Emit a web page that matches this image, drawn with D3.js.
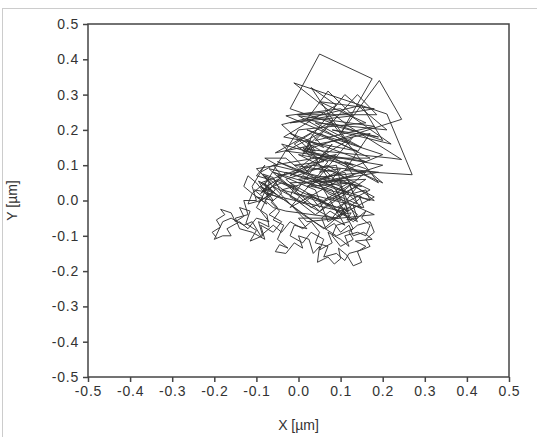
<!DOCTYPE html>
<html>
<head>
<meta charset="utf-8">
<script src="https://cdn.jsdelivr.net/npm/d3@7"></script>
<style>
  body { margin: 0; background: #fff; }
  text { font-family: "Liberation Sans", Arial, sans-serif; fill: #333; }
</style>
</head>
<body>
<svg id="svg"></svg>
<script>
// axis ticks
let xTicks = [-0.5, -0.4, -0.3, -0.2, -0.1, 0.0, 0.1, 0.2, 0.3, 0.4, 0.5]
let yTicks = [-0.5, -0.4, -0.3, -0.2, -0.1, 0.0, 0.1, 0.2, 0.3, 0.4, 0.5]

// trajectory (x, y in um)
let trackX = [
  -0.195, -0.205, -0.185, -0.195, -0.175, -0.185, -0.16, -0.15, -0.13, -0.14,
  -0.115, -0.125, -0.1, -0.115, -0.085, -0.095, -0.07, -0.075, -0.1, -0.085,
  -0.105, -0.08, -0.095, -0.07, -0.075, -0.055, -0.085, -0.06, -0.04, -0.065,
  -0.045, -0.06, -0.035, -0.05, -0.025, -0.045, -0.055, -0.03, -0.01, 0.01,
  0.0, 0.025, 0.035, 0.05, 0.045, 0.07, 0.085, 0.1, 0.095, 0.115,
  0.13, 0.15, 0.14, 0.16, 0.135, 0.175, 0.155, 0.13, 0.12, 0.1,
  0.085, 0.065, 0.055, 0.075, 0.095, 0.11, 0.1, 0.125, 0.115, 0.14,
  0.13, 0.155, 0.145, 0.17, 0.16, 0.13, 0.12, 0.09, 0.1, 0.07,
  0.05, 0.03, 0.01, -0.02, -0.01, -0.04, -0.07, -0.09, -0.065, -0.1,
  -0.05, -0.08, -0.03, 0.0, 0.03, 0.01, 0.04, 0.02, 0.06, 0.03,
  -0.01, 0.025, 0.07, 0.05, 0.1, 0.08, 0.13, 0.11, 0.16, 0.2,
  0.03, -0.04, 0.15, 0.2, -0.02, 0.05, 0.175, 0.1, 0.192, 0.245,
  0.02, 0.22, 0.245, 0.12, -0.011, 0.21, 0.27, 0.11, 0.17, -0.055,
  0.08, 0.01, 0.16, -0.02, 0.19, 0.06, -0.004, 0.186, 0.14, 0.04,
  0.18, 0.0, 0.12, 0.03, 0.09, -0.035, 0.14, 0.02, 0.2, 0.06,
  0.15, -0.06, 0.09, -0.02, 0.13, 0.03, 0.18, 0.07, 0.02, -0.03,
  0.0, -0.05, -0.08, -0.06, -0.1, -0.075, -0.11, -0.09, -0.07, -0.095,
  -0.06, -0.085, -0.05, -0.07,
  -0.03, 0.12, -0.05, 0.10, 0.14, -0.02, 0.16, 0.04, -0.08, 0.09,
  0.17, 0.00, 0.13, -0.04, 0.07, 0.18, 0.02, -0.06, 0.11, 0.05,
  0.19, 0.03, -0.09, 0.06, 0.15, 0.01, 0.08, -0.01, 0.12, 0.04,
  0.17, 0.05, -0.03, 0.10, 0.20, 0.07, -0.07, 0.03, 0.14, 0.08,
  0.00, 0.02, -0.01, -0.02, 0.01, 0.03, 0.06, 0.05, 0.08, 0.07,
  0.10, 0.12, 0.11, 0.14, 0.16, 0.17, 0.15, 0.16, 0.13, 0.11,
  0.105, 0.09, 0.10, 0.115, 0.095,
  -0.03, -0.06, -0.08, -0.06, -0.09, -0.07, -0.10, -0.08, -0.11, -0.10,
  -0.13, -0.12, -0.15, -0.14, -0.11, -0.08, -0.09, -0.06, -0.04, -0.07,
  -0.05, -0.075, -0.085, -0.065, -0.08,
  0.00, 0.16, 0.05, 0.18, -0.02, 0.13, 0.07, 0.02, 0.19, 0.08,
  0.22, 0.10, -0.03, 0.15, 0.04, 0.21, 0.11, 0.03, 0.02, 0.03,
  0.01, 0.025, 0.035, 0.015, 0.06, -0.01, 0.09, 0.02, 0.13, 0.06,
  -0.04, 0.11, 0.14, 0.00, 0.16, 0.05, -0.05, 0.09, 0.12, 0.02,
  0.15, 0.06, -0.02, 0.10, 0.18, 0.07, 0.04, -0.06, 0.08, 0.13,
  0.09, 0.05, 0.01, -0.03, -0.07,
  -0.09, -0.07, -0.10, -0.12, -0.14, -0.17, -0.16, -0.18, -0.20, -0.18,
  -0.16, -0.13, -0.11, -0.09, -0.06, -0.04, -0.02, 0.01, 0.03, 0.05,
  0.04, 0.07, 0.06, 0.09, 0.11, 0.12, 0.15, 0.17, 0.16, 0.18,
  0.17, 0.14, 0.12, 0.13, 0.10, 0.08, 0.09, 0.12, 0.14, 0.12,
  0.10, -0.08, -0.10, -0.12, -0.13, -0.11, -0.12, -0.09, -0.07, -0.09,
  -0.06, -0.04, -0.07
]
let trackY = [
  -0.105, -0.09, -0.075, -0.055, -0.04, -0.025, -0.035, -0.06, -0.045, -0.02,
  -0.03, -0.065, -0.085, -0.115, -0.1, -0.06, -0.075, -0.04, -0.02, 0.01,
  0.03, 0.025, 0.055, 0.04, 0.01, 0.03, 0.075, 0.065, 0.02, -0.005,
  -0.03, -0.055, -0.07, -0.11, -0.135, -0.125, -0.145, -0.15, -0.12, -0.135,
  -0.1, -0.11, -0.15, -0.13, -0.175, -0.16, -0.18, -0.165, -0.135, -0.155,
  -0.185, -0.175, -0.145, -0.13, -0.115, -0.11, -0.09, -0.1, -0.07, -0.09,
  -0.065, -0.08, -0.05, -0.03, -0.045, -0.02, -0.04, -0.035, -0.055, -0.05,
  -0.015, -0.02, 0.01, 0.0, 0.03, 0.02, 0.05, 0.03, 0.0, 0.01,
  -0.02, 0.01, -0.01, 0.01, 0.04, 0.05, 0.035, 0.02, 0.05, 0.09,
  0.1, 0.12, 0.12, 0.09, 0.12, 0.15, 0.14, 0.17, 0.15, 0.19,
  0.16, 0.13, 0.11, 0.08, 0.09, 0.06, 0.07, 0.11, 0.09, 0.05,
  0.14, 0.215, 0.27, 0.17, 0.26, 0.415, 0.345, 0.19, 0.34, 0.23,
  0.145, 0.12, 0.116, 0.21, 0.333, 0.245, 0.073, 0.085, 0.19, 0.135,
  0.225, 0.14, 0.11, 0.19, 0.05, 0.25, 0.243, 0.243, 0.3, 0.17,
  0.21, 0.24, 0.16, 0.32, 0.27, 0.18, 0.14, 0.2, 0.13, 0.06,
  0.04, 0.1, 0.13, 0.07, 0.18, 0.04, 0.0, 0.1, 0.08, 0.06,
  0.03, 0.06, 0.035, 0.0, 0.01, -0.01, 0.02, 0.04, 0.015, -0.005,
  0.025, 0.05, 0.015, 0.03,
  0.08, 0.02, 0.11, 0.04, -0.06, 0.05, 0.06, -0.04, 0.07, -0.02,
  0.03, 0.13, 0.10, 0.16, 0.02, -0.04, -0.06, 0.04, -0.07, 0.05,
  0.08, 0.10, 0.05, -0.08, 0.01, 0.07, 0.16, 0.02, -0.03, 0.12,
  0.12, 0.19, 0.14, 0.12, 0.10, 0.05, 0.09, -0.02, 0.04, -0.05,
  -0.05, -0.08, -0.07, -0.10, -0.12, -0.09, -0.11, -0.14, -0.12, -0.09,
  -0.11, -0.13, -0.10, -0.09, -0.10, -0.07, -0.05, -0.03, -0.06, -0.04,
  -0.025, -0.035, -0.015, -0.03, -0.05,
  -0.03, -0.02, 0.00, 0.02, 0.04, 0.06, 0.07, 0.10, 0.04, 0.00,
  0.00, -0.04, -0.05, -0.08, -0.09, -0.11, -0.07, -0.09, -0.06, -0.04,
  -0.02, 0.015, 0.035, 0.03, 0.045,
  0.20, 0.22, 0.28, 0.26, 0.22, 0.24, 0.31, 0.23, 0.18, 0.20,
  0.16, 0.26, 0.24, 0.15, 0.22, 0.20, 0.30, 0.18, 0.14, 0.155,
  0.13, 0.165, 0.135, 0.145, 0.11, 0.10, 0.08, 0.04, 0.05, 0.00,
  0.03, 0.08, -0.01, 0.06, 0.08, -0.03, 0.07, 0.10, -0.05, 0.02,
  -0.02, 0.09, -0.02, 0.06, 0.01, -0.06, 0.03, 0.08, 0.03, -0.08,
  -0.10, -0.07, -0.04, 0.00, 0.02,
  -0.03, -0.06, -0.05, -0.08, -0.06, -0.08, -0.10, -0.10, -0.11, -0.06,
  -0.05, -0.07, -0.06, -0.10, -0.07, -0.09, -0.06, -0.08, -0.06, -0.09,
  -0.12, -0.13, -0.16, -0.15, -0.17, -0.15, -0.14, -0.13, -0.11, -0.09,
  -0.06, -0.07, -0.09, -0.11, -0.13, -0.10, -0.07, -0.06, -0.04, -0.02,
  -0.03, 0.02, 0.05, 0.07, 0.04, 0.02, -0.01, 0.00, 0.05, 0.08,
  0.10, 0.07, 0.03
]

let svg = d3.select('#svg').attr('width', 537).attr('height', 437)
let mLeft = 88, mRight = 509, mTop = 24, mBottom = 377

// faint outer frame of the figure
svg.append('rect')
  .attr('x', 2.5).attr('y', 8.5).attr('width', 540).attr('height', 440)
  .attr('fill', 'none').attr('stroke', '#ccc')

let x = d3.scaleLinear().domain([-0.5, 0.5]).range([mLeft, mRight])
let y = d3.scaleLinear().domain([-0.5, 0.5]).range([mBottom, mTop])

svg.append('defs').append('clipPath').attr('id', 'clip')
  .append('rect').attr('x', mLeft).attr('y', mTop)
  .attr('width', mRight - mLeft).attr('height', mBottom - mTop)

// trajectory
let n = Math.min(trackX.length, trackY.length)
let pts = d3.range(n).map(i => [trackX[i], trackY[i]])
svg.append('path')
  .datum(pts)
  .attr('clip-path', 'url(#clip)')
  .attr('fill', 'none')
  .attr('stroke', '#333')
  .attr('stroke-width', 0.95)
  .attr('d', d3.line().x(d => x(d[0])).y(d => y(d[1])))

// box
svg.append('rect')
  .attr('x', mLeft).attr('y', mTop)
  .attr('width', mRight - mLeft).attr('height', mBottom - mTop)
  .attr('fill', 'none').attr('stroke', '#444').attr('stroke-width', 1.5)

let fmt = d => d.toFixed(1)
let xAxis = d3.axisBottom(x).tickValues(xTicks).tickFormat(fmt).tickSize(5).tickPadding(4)
let yAxis = d3.axisLeft(y).tickValues(yTicks).tickFormat(fmt).tickSize(5).tickPadding(4)

let xGroup = svg.append('g')
  .attr('transform', `translate(0,${mBottom})`)
  .call(xAxis)
let yGroup = svg.append('g')
  .attr('transform', `translate(${mLeft},0)`)
  .call(yAxis)

;[xGroup, yGroup].forEach(g => {
  g.select('.domain').remove()
  g.selectAll('line').attr('stroke', '#444').attr('stroke-width', 1.5)
  g.selectAll('text').attr('font-size', 14).attr('fill', '#333')
    .attr('font-family', '"Liberation Sans", Arial, sans-serif')
    .attr('letter-spacing', '0.8px')
})

// axis captions
svg.append('text')
  .attr('x', (mLeft + mRight) / 2).attr('y', 430)
  .attr('text-anchor', 'middle').attr('font-size', 14)
  .text('X [µm]')
svg.append('text')
  .attr('transform', `translate(17,${(mTop + mBottom) / 2}) rotate(-90)`)
  .attr('text-anchor', 'middle').attr('font-size', 14)
  .text('Y [µm]')
</script>
</body>
</html>
